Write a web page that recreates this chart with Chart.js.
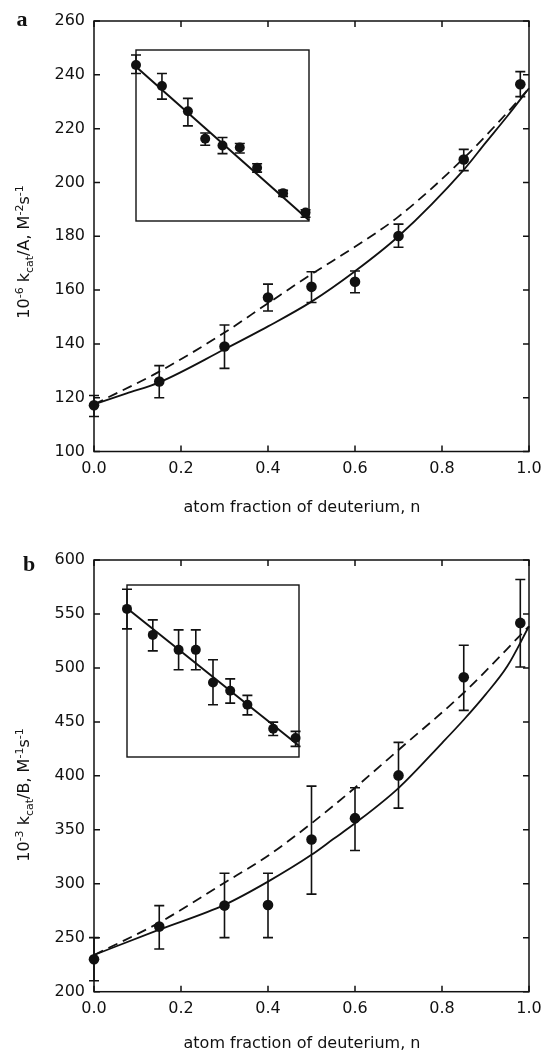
<!DOCTYPE html>
<html><head><meta charset="utf-8">
<script src="https://cdn.jsdelivr.net/npm/chart.js@4.4.0/dist/chart.umd.min.js"></script>
<style>
html,body{margin:0;padding:0;background:#fff;}
body{width:545px;height:1051px;position:relative;overflow:hidden;font-family:'DejaVu Sans',sans-serif;color:#111;}
canvas{position:absolute;}
.lbl{position:absolute;white-space:nowrap;line-height:1;}
.panel{font-family:'Liberation Serif',serif;font-weight:bold;font-size:22px;transform:translate(-50%,-50%);}
.ytitle{transform:translate(-50%,-50%) rotate(-90deg);font-size:16px;}
.xtitle{transform:translate(-50%,-50%);font-size:16px;}
sup,sub{font-size:11px;line-height:0;}
</style></head><body>
<canvas id="ca" width="545" height="520" style="left:0;top:0"></canvas>
<canvas id="cb" width="545" height="531" style="left:0;top:520px"></canvas>
<canvas id="ia" width="193" height="191" style="left:126px;top:40px"></canvas>
<canvas id="ib" width="192" height="192" style="left:117px;top:575px"></canvas>
<div class="lbl panel" style="left:22px;top:19px">a</div>
<div class="lbl panel" style="left:29px;top:564px">b</div>
<div class="lbl ytitle" style="left:24px;top:252px">10<sup>-6</sup> k<sub>cat</sub>/A, M<sup>-2</sup>s<sup>-1</sup></div>
<div class="lbl ytitle" style="left:24px;top:795px">10<sup>-3</sup> k<sub>cat</sub>/B, M<sup>-1</sup>s<sup>-1</sup></div>
<div class="lbl xtitle" style="left:302px;top:507px">atom fraction of deuterium, n</div>
<div class="lbl xtitle" style="left:302px;top:1043px">atom fraction of deuterium, n</div>
<script>
// ---------- data: panel a ----------
const nA = [0, 0.15, 0.3, 0.4, 0.5, 0.6, 0.7, 0.85, 0.98];
const kA = [117.2, 126, 139, 157.2, 161.2, 163.1, 180.1, 208.5, 236.5];
const kAlo = [113, 120, 130.9, 152.2, 155.4, 159, 175.9, 204.4, 231.9];
const kAhi = [120.8, 131.9, 147, 162.2, 166.8, 167.1, 184.5, 212.3, 241.2];
const solidAn = [0, 0.075, 0.15, 0.3, 0.4, 0.5, 0.6, 0.7, 0.85, 0.9, 0.95, 1.0];
const solidAk = [117.5, 121.6, 125.7, 138, 146.5, 155.7, 167, 180, 204.7, 214.7, 224.6, 235];
const dashAn = [0, 0.15, 0.3, 0.4, 0.5, 0.6, 0.7, 0.85, 0.98, 1.0];
const dashAk = [117.5, 129.7, 144.2, 155.1, 165.9, 176.1, 187.3, 209, 231.3, 235];
const insetAy = [91.2, 78.9, 64.2, 48.1, 44.2, 43.0, 31.1, 16.3, 4.9];
const insetAhi = [97.1, 86.3, 71.7, 51.5, 48.8, 45.3, 33.5, 17.9, 6.6];
const insetAlo = [86.3, 71.3, 55.6, 44.3, 39.4, 39.8, 28.6, 14.4, 2.2];
const insetAlineN = [0, 1];
const insetAlineY = [90.2, 0.5];
const yTicksA = [100, 120, 140, 160, 180, 200, 220, 240, 260];

// ---------- data: panel b ----------
const nB = [0, 0.15, 0.3, 0.4, 0.5, 0.6, 0.7, 0.85, 0.98];
const kB = [230.1, 260.3, 279.8, 280.4, 341, 360.8, 400.4, 491.3, 541.7];
const kBlo = [210.2, 239.6, 250.1, 250.1, 290.4, 330.8, 370.1, 460.7, 500.9];
const kBhi = [250.1, 279.8, 309.8, 309.8, 390.5, 389, 431, 521, 581.9];
const solidBn = [0, 0.15, 0.3, 0.4, 0.5, 0.55, 0.6, 0.7, 0.8, 0.85, 0.9, 0.95, 1.0];
const solidBk = [234, 257.5, 280.5, 302, 326.8, 341.4, 356, 388.7, 430.4, 452, 475.3, 501.5, 538.6];
const dashBn = [0, 0.15, 0.3, 0.4, 0.5, 0.6, 0.7, 0.85, 1.0];
const dashBk = [234, 264, 301, 326, 356, 389, 424, 477, 538.6];
const insetBy = [86.1, 71.0, 62.3, 62.3, 43.3, 38.5, 30.4, 16.4, 11.0];
const insetBhi = [97.5, 79.7, 73.9, 73.9, 56.5, 45.4, 35.8, 20.3, 14.9];
const insetBlo = [74.5, 61.7, 50.7, 50.7, 30.4, 31.3, 24.5, 12.5, 6.2];
const insetBlineN = [0, 1];
const insetBlineY = [86.5, 6.5];
const yTicksB = [200, 250, 300, 350, 400, 450, 500, 550, 600];

const xTickLabels = ['0.0', '0.2', '0.4', '0.6', '0.8', '1.0'];

const zip = (xs, ys) => xs.map((v, i) => ({x: v, y: ys[i]}));
const INK = '#111';

const deco = {
  id: 'deco',
  beforeDatasetsDraw(chart) {
    const {ctx, scales: {x, y}} = chart;
    ctx.save();
    ctx.strokeStyle = INK; ctx.lineWidth = 1.6;
    chart.data.datasets.forEach(ds => {
      if (!ds.errLo) return;
      const cw = ds.capW || 5;
      ds.data.forEach((p, i) => {
        const px = x.getPixelForValue(p.x);
        const y1 = y.getPixelForValue(ds.errLo[i]);
        const y2 = y.getPixelForValue(ds.errHi[i]);
        ctx.beginPath();
        ctx.moveTo(px, y1); ctx.lineTo(px, y2);
        ctx.moveTo(px - cw, y1); ctx.lineTo(px + cw, y1);
        ctx.moveTo(px - cw, y2); ctx.lineTo(px + cw, y2);
        ctx.stroke();
      });
    });
    ctx.restore();
  },
  afterDraw(chart, args, opts) {
    const {ctx, chartArea: a, scales: {x, y}} = chart;
    ctx.save();
    ctx.strokeStyle = INK; ctx.lineWidth = opts.frameW || 1.5;
    ctx.strokeRect(a.left, a.top, a.right - a.left, a.bottom - a.top);
    if (opts.ticks) {
      const L = 6;
      ctx.beginPath();
      x.ticks.forEach(t => {
        const px = x.getPixelForValue(t.value);
        ctx.moveTo(px, a.bottom); ctx.lineTo(px, a.bottom - L);
        ctx.moveTo(px, a.top); ctx.lineTo(px, a.top + L);
      });
      y.ticks.forEach(t => {
        const py = y.getPixelForValue(t.value);
        ctx.moveTo(a.left, py); ctx.lineTo(a.left + L, py);
        ctx.moveTo(a.right, py); ctx.lineTo(a.right - L, py);
      });
      ctx.stroke();
    }
    ctx.restore();
  }
};

function mainChart(id, n, k, lo, hi, sN, sK, dN, dK, yTicks, padTop, xH) {
  return new Chart(document.getElementById(id), {
    type: 'scatter',
    data: {
      datasets: [
        {data: zip(sN, sK), showLine: true, borderColor: INK, borderWidth: 1.8, pointRadius: 0,
         cubicInterpolationMode: 'monotone', clip: false},
        {data: zip(dN, dK), showLine: true, borderColor: INK, borderWidth: 1.8, borderDash: [10, 6], pointRadius: 0,
         cubicInterpolationMode: 'monotone', clip: false},
        {data: zip(n, k), errLo: lo, errHi: hi, capW: 5, pointRadius: 5.3, pointBackgroundColor: INK,
         pointBorderColor: INK, borderWidth: 0, clip: false}
      ]
    },
    options: {
      responsive: false, animation: false, events: [],
      layout: {padding: {top: padTop, right: 16, left: 0, bottom: 0}},
      plugins: {legend: {display: false}, tooltip: {enabled: false}, deco: {ticks: true}},
      scales: {
        x: {type: 'linear', min: 0, max: 1,
            grid: {display: false, drawTicks: false}, border: {display: false},
            ticks: {stepSize: 0.2, padding: 8, color: INK, font: {family: 'DejaVu Sans', size: 16},
                    callback: (v, i) => xTickLabels[i]},
            afterFit(s) { s.height = xH; s.paddingLeft = 0; s.paddingRight = 0; }},
        y: {type: 'linear', min: yTicks[0], max: yTicks[yTicks.length - 1],
            grid: {display: false, drawTicks: false}, border: {display: false},
            ticks: {stepSize: yTicks[1] - yTicks[0], padding: 9, color: INK, font: {family: 'DejaVu Sans', size: 16}},
            afterFit(s) { s.width = 94; s.paddingTop = 0; s.paddingBottom = 0; }}
      }
    },
    plugins: [deco]
  });
}

function insetChart(id, n, yv, lo, hi, lN, lY) {
  return new Chart(document.getElementById(id), {
    type: 'scatter',
    data: {
      datasets: [
        {data: zip(lN, lY), showLine: true, borderColor: INK, borderWidth: 2, pointRadius: 0, clip: false},
        {data: zip(n, yv), errLo: lo, errHi: hi, capW: 5, pointRadius: 5, pointBackgroundColor: INK,
         pointBorderColor: INK, borderWidth: 0, clip: false}
      ]
    },
    options: {
      responsive: false, animation: false, events: [],
      layout: {padding: 10},
      plugins: {legend: {display: false}, tooltip: {enabled: false}, deco: {ticks: false, frameW: 1.4}},
      scales: {
        x: {type: 'linear', min: 0, max: 1, display: false},
        y: {type: 'linear', min: 0, max: 100, display: false}
      }
    },
    plugins: [deco]
  });
}

mainChart('ca', nA, kA, kAlo, kAhi, solidAn, solidAk, dashAn, dashAk, yTicksA, 21, 68.5);
mainChart('cb', nB, kB, kBlo, kBhi, solidBn, solidBk, dashBn, dashBk, yTicksB, 40, 59.3);
insetChart('ia', nA, insetAy, insetAlo, insetAhi, insetAlineN, insetAlineY);
insetChart('ib', nB, insetBy, insetBlo, insetBhi, insetBlineN, insetBlineY);
</script>
</body></html>
